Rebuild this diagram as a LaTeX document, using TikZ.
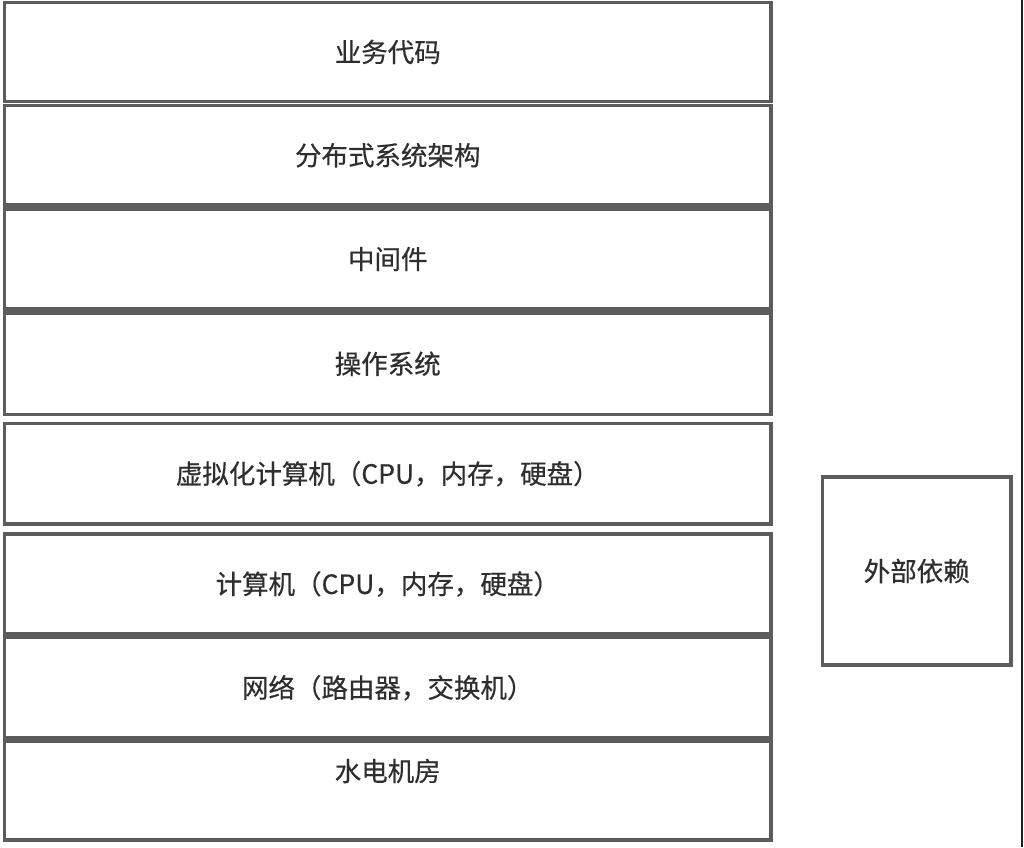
\documentclass[tikz,border=0pt]{standalone}
\usepackage{fontspec}
\newfontfamily\cjk[FakeBold=0.4]{Noto Sans CJK SC}
\definecolor{edge}{HTML}{5C5C5C}
\definecolor{ink}{HTML}{2E2E2E}
\definecolor{rim}{HTML}{1E1E1E}
\tikzset{
  layer/.style={draw=edge, line width=3.5pt, fill=white, inner sep=0pt, text=ink,
    font=\cjk\fontsize{26.5}{30}\selectfont},
  txt/.style={inner sep=0pt, text=ink, font=\cjk\fontsize{26.5}{30}\selectfont}
}
\begin{document}
\begin{tikzpicture}[x=1pt,y=-1pt]
\useasboundingbox (0,0) rectangle (1024,847);
\fill[white] (0,0) rectangle (1024,847);
\node[layer, minimum width=766.5pt, minimum height=99pt] (b1) at (387.75,52) {业务代码};
\node[layer, minimum width=766.5pt, minimum height=99.5pt] (b2) at (387.75,155.25) {分布式系统架构};
\node[layer, minimum width=766.5pt, minimum height=100pt] (b3) at (387.75,259) {中间件};
\node[layer, minimum width=766.5pt, minimum height=101.5pt] (b4) at (387.75,363.75) {操作系统};
\node[layer, minimum width=766.5pt, minimum height=100.5pt] (b5) at (387.75,473.75) {虚拟化计算机（CPU，内存，硬盘）};
\node[layer, minimum width=766.5pt, minimum height=100pt] (b6) at (387.75,584) {计算机（CPU，内存，硬盘）};
\node[layer, minimum width=766.5pt, minimum height=100.5pt] (b7) at (387.75,687.75) {网络（路由器，交换机）};
\node[layer, minimum width=766.5pt, minimum height=98.5pt] (b8) at (387.75,790.75) {};
\node[txt] (b8t) at (387.75,771) {水电机房};
\node[layer, minimum width=188.5pt, minimum height=188pt] (ext) at (916.75,571) {外部依赖};
\coordinate (rt) at (1022,0);
\coordinate (rb) at (1022,847);
\draw[rim, line width=2.5pt] (rt) -- (rb);
\end{tikzpicture}
\end{document}
